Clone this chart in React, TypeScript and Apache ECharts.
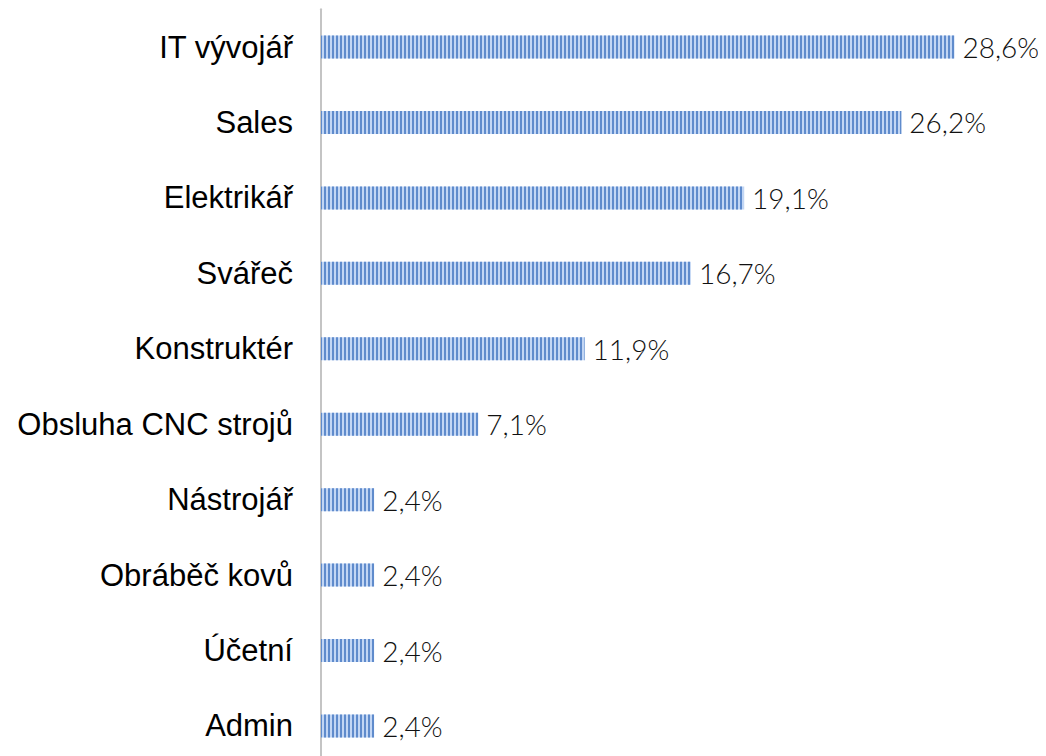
import React, { useEffect, useRef } from "react";
import * as echarts from "echarts";

const categories = [
  "IT vývojář",
  "Sales",
  "Elektrikář",
  "Svářeč",
  "Konstruktér",
  "Obsluha CNC strojů",
  "Nástrojář",
  "Obráběč kovů",
  "Účetní",
  "Admin",
];
const values = [28.6, 26.2, 19.1, 16.7, 11.9, 7.1, 2.4, 2.4, 2.4, 2.4];

export default function App() {
  const ref = useRef<HTMLDivElement>(null);
  useEffect(() => {
    document.body.style.overflow = "hidden";
    const chart = echarts.init(ref.current!, null, { renderer: "svg" });
    chart.setOption({
      animation: false,
      grid: { left: 321, top: 9.3, height: 754.4, width: 664.5 },
      xAxis: {
        type: "value",
        min: 0,
        max: 30,
        show: false,
      },
      yAxis: {
        type: "category",
        inverse: true,
        data: categories,
        axisLine: { show: true, lineStyle: { color: "#c4c4c4", width: 2 } },
        axisTick: { show: false },
        axisLabel: {
          margin: 28,
          fontFamily: "Liberation Sans, Arial, sans-serif",
          fontSize: 31,
          color: "#000",
        },
      },
      series: [
        {
          type: "bar",
          data: values,
          barWidth: 23,
          itemStyle: {
            color: "#c2d6f4",
            decal: {
              symbol: "rect",
              symbolSize: 1,
              color: "#5f8bcc",
              dashArrayX: [1.5, 1.5],
              dashArrayY: [1, 0],
              rotation: 0,
            },
          },
          label: {
            show: true,
            position: "right",
            distance: 8,
            formatter: (p: any) => String(p.value).replace(".", ",") + "%",
            fontFamily: "Lato, sans-serif",
            fontWeight: 300,
            fontSize: 28,
            color: "#111",
          },
        },
      ],
    });
    return () => chart.dispose();
  }, []);
  return <div ref={ref} style={{ width: 1046, height: 780, margin: -8 }} />;
}
